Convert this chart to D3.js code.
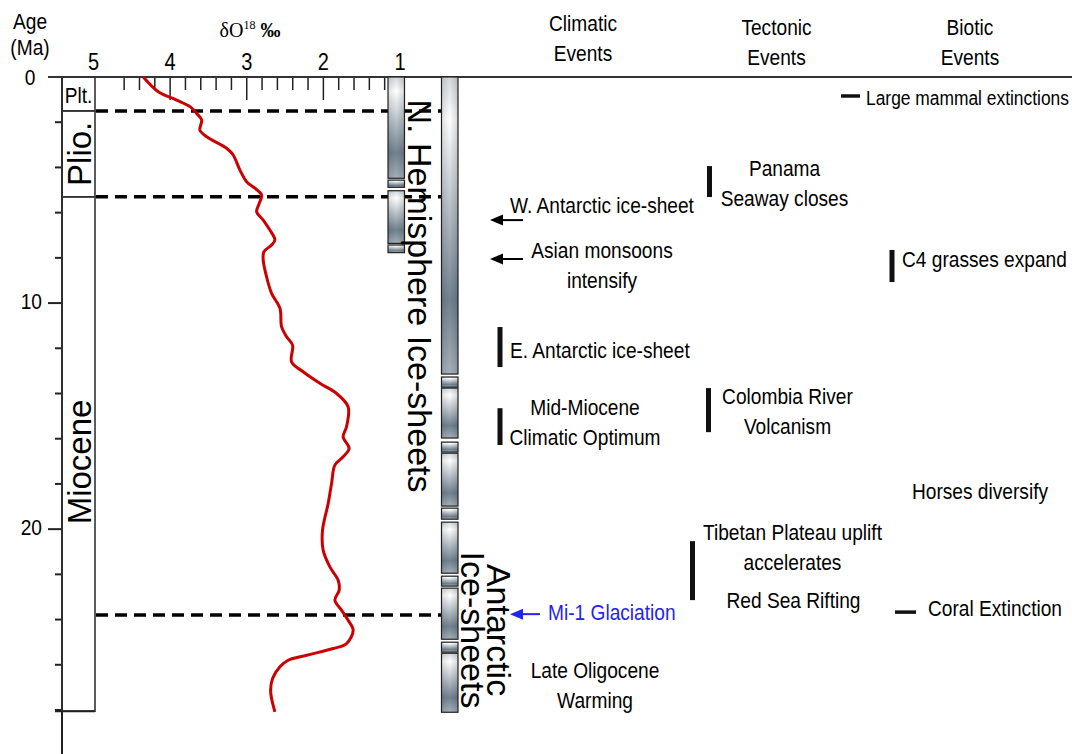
<!DOCTYPE html>
<html><head><meta charset="utf-8">
<script src="https://cdn.jsdelivr.net/npm/d3@7"></script>
<style>body{margin:0;background:#fff}svg{display:block}</style>
</head><body>
<svg id="c" width="1072" height="754"></svg>
<script>
// ---------- DATA ----------
const ageTicks = [2,4,6,8,10,12,14,16,18,20,22,24,26,28];
const ageLabels = [0,10,20];
const isoMajor = [5,4,3,2,1];
const isoMinor = [4.6,4.4,4.2,3.8,3.6,3.4,3.2,2.8,2.6,2.4,2.2,1.8,1.6,1.4,1.2];
const epochNames = ["Plt.","Plio.","Miocene"];
const epochStart = [0,1.5,5.3];
const epochEnd = [1.5,5.3,28.05];
const boundaryAges = [1.5,5.3,23.8];
// N. Hemisphere ice-sheet segments [start, end] (Ma)
const nhIce = [[0,4.48],[4.56,4.88],[5.03,7.36],[7.43,7.77]];
// Antarctic ice-sheet segments [start, end] (Ma)
const antIce = [[0,13.14],[13.27,13.72],[13.76,15.97],[16.15,16.59],[16.64,18.98],[19.07,19.56],
                [19.69,21.95],[22.08,22.52],[22.61,24.87],[25.0,25.44],[25.49,28.1]];
// delta O18 curve: age (Ma) and value (permil)
const curveAge = [0,0.65,1.02,1.31,1.61,1.90,2.35,2.64,3.15,3.45,4.12,4.63,4.92,5.22,5.59,5.96,6.33,6.77,7.21,7.43,7.73,8.10,8.84,9.57,10.23,11.05,11.49,11.86,12.60,13.04,13.55,14.0,14.59,15.47,15.92,16.43,16.80,17.17,17.98,18.86,20.04,20.93,21.67,22.26,22.70,23.14,23.58,24.03,24.47,25.06,25.28,25.58,25.80,26.09,26.61,27.12,27.49,28.08];
const curveD18O = [4.35,4.155,3.915,3.74,3.654,3.589,3.611,3.523,3.263,3.177,3.089,3.002,2.893,2.806,2.837,2.871,2.785,2.698,2.633,2.676,2.776,2.785,2.741,2.676,2.567,2.545,2.48,2.402,2.415,2.264,2.046,1.828,1.677,1.698,1.742,1.664,1.742,1.85,1.893,1.937,2.011,2.003,1.915,1.807,1.794,1.85,1.763,1.677,1.611,1.698,1.872,2.219,2.459,2.567,2.663,2.689,2.676,2.633];
const columns = ["Climatic","Tectonic","Biotic"];
const columnHeaders = [["Climatic","Events"],["Tectonic","Events"],["Biotic","Events"]];
const events = [
  {col:"Biotic",   lines:["Large mammal extinctions"], textAge:0.93, marker:"dash",  markAge:[0.84,0.84], small:true},
  {col:"Tectonic", lines:["Panama","Seaway closes"], textAge:4.69, marker:"bar", markAge:[3.94,5.31]},
  {col:"Climatic", lines:["W. Antarctic ice-sheet"], textAge:5.66, marker:"arrow", markAge:[6.33,6.33]},
  {col:"Climatic", lines:["Asian monsoons","intensify"], textAge:8.32, marker:"arrow", markAge:[8.05,8.05]},
  {col:"Biotic",   lines:["C4 grasses expand"], textAge:8.05, marker:"bar", markAge:[7.65,9.07]},
  {col:"Climatic", lines:["E. Antarctic ice-sheet"], textAge:12.08, marker:"bar", markAge:[11.06,12.83]},
  {col:"Climatic", lines:["Mid-Miocene","Climatic Optimum"], textAge:15.27, marker:"bar", markAge:[14.65,16.28]},
  {col:"Tectonic", lines:["Colombia River","Volcanism"], textAge:14.78, marker:"bar", markAge:[13.76,15.71]},
  {col:"Biotic",   lines:["Horses diversify"], textAge:18.32, marker:null},
  {col:"Tectonic", lines:["Tibetan Plateau uplift","accelerates"], textAge:20.8, marker:"bar", markAge:[20.53,23.14]},
  {col:"Tectonic", lines:["Red Sea Rifting"], textAge:23.14, marker:null},
  {col:"Biotic",   lines:["Coral Extinction"], textAge:23.5, marker:"dash", markAge:[23.67,23.67]},
  {col:"Climatic", lines:["Mi-1 Glaciation"], textAge:23.67, marker:"arrow", markAge:[23.76,23.76], highlight:true},
  {col:"Climatic", lines:["Late Oligocene","Warming"], textAge:26.88, marker:null}
];
// ---------- LAYOUT (offsets from column centre) ----------
const eventLayout = [
  {dx:-104, anchor:"start", m0:-129, m1:-110},
  {dx:8, anchor:"middle", m0:-67},
  {dx:-73, anchor:"start", m0:-93, m1:-60},
  {dx:19, anchor:"middle", m0:-93, m1:-60},
  {dx:-68, anchor:"start", m0:-78},
  {dx:-73, anchor:"start", m0:-83},
  {dx:2, anchor:"middle", m0:-83},
  {dx:11, anchor:"middle", m0:-68},
  {dx:10, anchor:"middle"},
  {dx:16, anchor:"middle", m0:-84},
  {dx:17, anchor:"middle"},
  {dx:-42, anchor:"start", m0:-75, m1:-54},
  {dx:-35, anchor:"start", m0:-73, m1:-43},
  {dx:12, anchor:"middle"}
];

// ---------- CHART ----------
const svg = d3.select("#c");
const FONT = "'Liberation Sans', Arial, Helvetica, sans-serif";
const SX = 0.87;
const y = d3.scaleLinear().domain([0,28]).range([77,710]);
const x = d3.scaleLinear().domain([5,1]).range([93.5,400]);
const colX = d3.scalePoint().domain(columns).range([583,970]);

function ntext(g, px, py, str, size, anchor, color){
  return g.append("text")
    .attr("transform", `translate(${px},${py}) scale(${SX},1)`)
    .attr("text-anchor", anchor || "middle")
    .attr("dominant-baseline","central")
    .style("font-family", FONT).style("font-size", size+"px")
    .attr("fill", color || "#000").text(str);
}

const defs = svg.append("defs");
const grad = defs.append("linearGradient").attr("id","ice").attr("x1",0).attr("y1",0).attr("x2",0).attr("y2",1);
[[0,"#d3d9de"],[0.14,"#ffffff"],[0.45,"#b5bec6"],[0.75,"#718290"],[1,"#a6b1ba"]].forEach(s=>
  grad.append("stop").attr("offset",s[0]).attr("stop-color",s[1]));
const gradH = defs.append("linearGradient").attr("id","iceH").attr("x1",0).attr("y1",0).attr("x2",1).attr("y2",0);
[[0,"#000",0.12],[0.5,"#000",0],[1,"#000",0.15]].forEach(s=>
  gradH.append("stop").attr("offset",s[0]).attr("stop-color",s[1]).attr("stop-opacity",s[2]));

// axis header texts
ntext(svg, 30, 21, "Age", 22);
ntext(svg, 30, 47, "(Ma)", 22);
ntext(svg, 30, 77, "0", 22);
const iso = svg.append("text").attr("x",250).attr("y",37).attr("text-anchor","middle")
  .style("font-family","'Liberation Serif','Times New Roman',serif").style("font-size","20px").attr("fill","#000");
iso.append("tspan").text("δO");
iso.append("tspan").attr("dy",-8).style("font-size","12px").text("18");
iso.append("tspan").attr("dy",8).style("font-weight","bold").text(" ‰");

// top δ18O axis
isoMajor.forEach(v=> ntext(svg, x(v), 62, String(v), 23));
svg.append("g").selectAll("line").data(isoMajor.filter(v=>v>1 && v<5)).join("line")
  .attr("x1",d=>x(d)).attr("x2",d=>x(d)).attr("y1",77).attr("y2",100)
  .attr("stroke","#222").attr("stroke-width",1.5);
svg.append("g").selectAll("line").data(isoMinor).join("line")
  .attr("x1",d=>x(d)).attr("x2",d=>x(d)).attr("y1",77).attr("y2",90)
  .attr("stroke","#222").attr("stroke-width",1.5);

// left age axis
svg.append("line").attr("x1",62).attr("x2",62).attr("y1",77).attr("y2",754).attr("stroke","#222").attr("stroke-width",2);
svg.append("g").selectAll("line").data(ageTicks).join("line")
  .attr("x1",d=>ageLabels.includes(d)?48:55).attr("x2",62).attr("y1",d=>y(d)).attr("y2",d=>y(d))
  .attr("stroke","#222").attr("stroke-width",2);
ageLabels.filter(a=>a>0).forEach(a=> ntext(svg, 42, y(a)-2, String(a), 22, "end"));

// epoch column
const ep = svg.append("g");
epochNames.forEach((n,i)=>{
  ep.append("rect").attr("x",62).attr("y",y(epochStart[i])).attr("width",33)
    .attr("height",y(epochEnd[i])-y(epochStart[i])).attr("fill","none").attr("stroke","#333").attr("stroke-width",1.6);
});
ntext(ep, 78.5, (y(0)+y(1.5))/2+1, "Plt.", 22);
[["Plio.",1],["Miocene",2]].forEach(([n,i])=>{
  ep.append("text").attr("transform",`translate(79,${(y(epochStart[i])+y(epochEnd[i]))/2 + (i==2?8:0)}) rotate(-90)`)
    .attr("text-anchor","middle").attr("dominant-baseline","central")
    .style("font-family",FONT).style("font-size","33px").attr("fill","#000").text(n);
});
svg.append("line").attr("x1",55).attr("x2",95).attr("y1",y(epochEnd[2])).attr("y2",y(epochEnd[2])).attr("stroke","#222").attr("stroke-width",2);

// top horizontal rule
svg.append("line").attr("x1",48).attr("x2",1072).attr("y1",77).attr("y2",77).attr("stroke","#333").attr("stroke-width",2);

// dashed boundaries
svg.append("g").selectAll("line").data(boundaryAges).join("line")
  .attr("x1",96).attr("x2",441).attr("y1",d=>y(d)).attr("y2",d=>y(d))
  .attr("stroke","#000").attr("stroke-width",3.5).attr("stroke-dasharray","12,7");

// ice sheet bars
function iceBar(segs, x0, w){
  const g = svg.append("g");
  g.selectAll("rect.a").data(segs).join("rect").attr("class","a")
    .attr("x",x0).attr("width",w).attr("y",d=>y(d[0])).attr("height",d=>y(d[1])-y(d[0]))
    .attr("fill","url(#ice)").attr("stroke","#222").attr("stroke-width",1.2);
  g.selectAll("rect.b").data(segs).join("rect").attr("class","b")
    .attr("x",x0).attr("width",w).attr("y",d=>y(d[0])).attr("height",d=>y(d[1])-y(d[0]))
    .attr("fill","url(#iceH)").attr("stroke","none");
}
iceBar(nhIce, 388, 16.5);
iceBar(antIce, 441.5, 16.5);

// ice sheet labels
svg.append("text").attr("transform",`translate(420,296) rotate(90)`)
  .attr("text-anchor","middle").attr("dominant-baseline","central")
  .style("font-family",FONT).style("font-size","34px").attr("fill","#000").text("N. Hemisphere Ice-sheets");
[["Antarctic",499],["Ice-sheets",473]].forEach(([t,px])=>{
  svg.append("text").attr("transform",`translate(${px},630) rotate(90)`)
    .attr("text-anchor","middle").attr("dominant-baseline","central")
    .style("font-family",FONT).style("font-size","34px").attr("fill","#000").text(t);
});

// delta O18 curve
const pts = curveAge.map((a,i)=>[curveD18O[i],a]);
svg.append("path").datum(pts)
  .attr("d", d3.line().x(d=>x(d[0])).y(d=>y(d[1])).curve(d3.curveCatmullRom.alpha(0.5)))
  .attr("fill","none").attr("stroke","#cc0000").attr("stroke-width",3).attr("stroke-linejoin","round");

// column headers
const headerDy = [-4,0,0];
columnHeaders.forEach((h,i)=>{
  const cx = colX(columns[i]);
  ntext(svg, cx, 27+headerDy[i], h[0], 22);
  ntext(svg, cx, 57+headerDy[i], h[1], 22);
});

// events
const ev = svg.append("g");
events.forEach((e,i)=>{
  const L = eventLayout[i];
  const cx = colX(e.col);
  const color = e.highlight ? "#2424ee" : "#000";
  const size = e.small ? 20 : 22;
  const n = e.lines.length;
  e.lines.forEach((t,j)=>{
    ntext(ev, cx+L.dx, y(e.textAge) + (j-(n-1)/2)*30, t, size, L.anchor, color);
  });
  if(e.marker==="bar"){
    ev.append("line").attr("x1",cx+L.m0).attr("x2",cx+L.m0).attr("y1",y(e.markAge[0])).attr("y2",y(e.markAge[1]))
      .attr("stroke","#111").attr("stroke-width",5);
  } else if(e.marker==="dash"){
    ev.append("line").attr("x1",cx+L.m0).attr("x2",cx+L.m1).attr("y1",y(e.markAge[0])).attr("y2",y(e.markAge[0]))
      .attr("stroke","#111").attr("stroke-width",3.5);
  } else if(e.marker==="arrow"){
    const yy = y(e.markAge[0]), x0 = cx+L.m0, x1 = cx+L.m1;
    ev.append("line").attr("x1",x0+10).attr("x2",x1).attr("y1",yy).attr("y2",yy).attr("stroke",color).attr("stroke-width",2);
    ev.append("path").attr("d",`M${x0},${yy} L${x0+13},${yy-5.5} L${x0+13},${yy+5.5} Z`).attr("fill",color);
  }
});
</script>
</body></html>
